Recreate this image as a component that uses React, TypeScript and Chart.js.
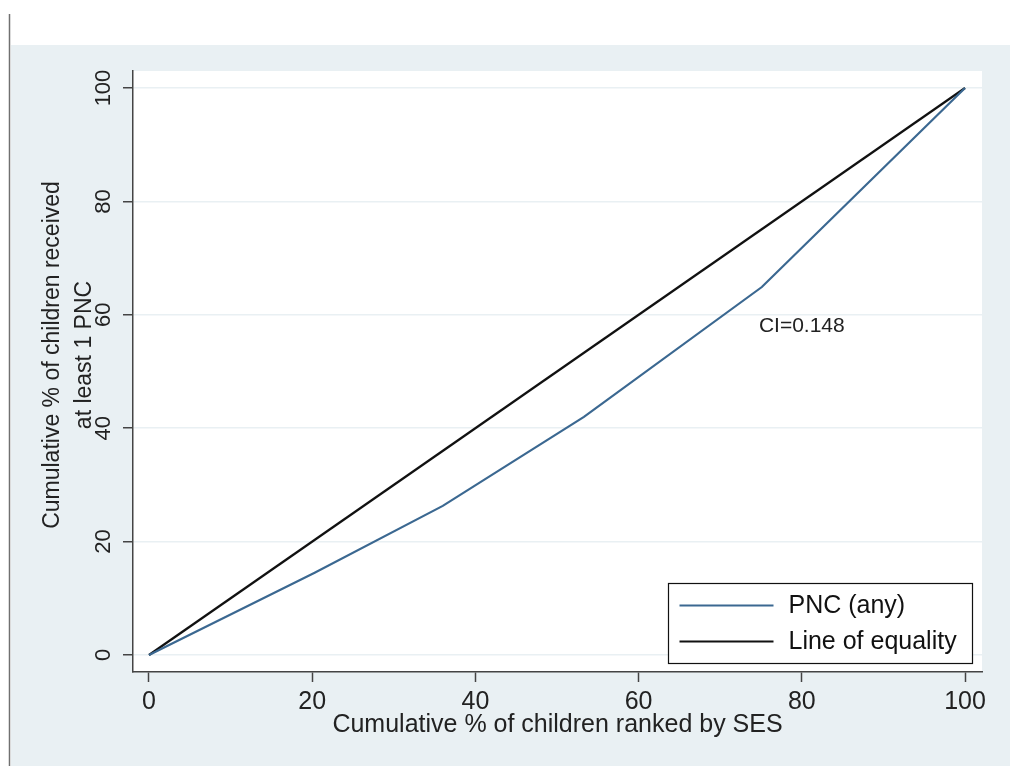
import React, { useEffect, useRef } from "react";
import { Chart, registerables } from "chart.js";

Chart.register(...registerables);

const W = 1010;
const H = 766;

const xTicks = [0, 20, 40, 60, 80, 100];
const yTicks = [0, 20, 40, 60, 80, 100];
const pncX = [0, 20.3, 36.0, 53.3, 75.1, 100];
const pncY = [0, 14.5, 26.3, 42.0, 64.9, 100];
const eqX = [0, 100];
const eqY = [0, 100];
const seriesLabels = ["PNC (any)", "Line of equality"];
const seriesColors = ["#3b6891", "#111111"];
const ciText = "CI=0.148";
const ciPos = [80, 58];
const xTitle = "Cumulative % of children ranked by SES";
const yTitle = ["Cumulative % of children received", "at least 1 PNC"];

const FONT = "'Liberation Sans', Arial, Helvetica, sans-serif";
const BG = "#e9f0f3";
const GRID = "#e9f0f3";
const AXIS = "#444444";

const bgPlugin = {
  id: "bgPlugin",
  beforeDraw(chart: any) {
    const { ctx, chartArea } = chart;
    ctx.save();
    ctx.fillStyle = "#ffffff";
    ctx.fillRect(0, 0, W, H);
    ctx.fillStyle = BG;
    ctx.fillRect(11, 45, W - 11, H - 45);
    ctx.strokeStyle = "#707070";
    ctx.lineWidth = 1.5;
    ctx.beginPath();
    ctx.moveTo(9.5, 14);
    ctx.lineTo(9.5, H);
    ctx.stroke();
    ctx.fillStyle = "#ffffff";
    ctx.fillRect(
      chartArea.left,
      chartArea.top,
      chartArea.right - chartArea.left,
      chartArea.bottom - chartArea.top
    );
    ctx.restore();
  },
};

const overlayPlugin = {
  id: "overlayPlugin",
  afterDraw(chart: any) {
    const { ctx, chartArea, scales } = chart;
    ctx.save();
    // CI annotation
    ctx.fillStyle = "#222222";
    ctx.font = `21px ${FONT}`;
    ctx.textAlign = "center";
    ctx.textBaseline = "middle";
    ctx.fillText(
      ciText,
      scales.x.getPixelForValue(ciPos[0]),
      scales.y.getPixelForValue(ciPos[1])
    );

    // Y axis title (two lines, rotated)
    ctx.save();
    ctx.font = `23px ${FONT}`;
    ctx.fillStyle = "#222222";
    ctx.translate(0, 355);
    ctx.rotate(-Math.PI / 2);
    ctx.textAlign = "center";
    ctx.textBaseline = "middle";
    ctx.fillText(yTitle[0], 0, 53);
    ctx.fillText(yTitle[1], 0, 85);
    ctx.restore();

    // Legend box
    const bx = chartArea.right - 10;
    const by = chartArea.bottom - 9.5;
    const bw = 304;
    const bh = 80;
    const left = Math.round(bx - bw) + 0.5;
    const top = Math.round(by - bh) + 0.5;
    ctx.fillStyle = "#ffffff";
    ctx.fillRect(left, top, bw, bh);
    ctx.strokeStyle = "#111111";
    ctx.lineWidth = 1.2;
    ctx.strokeRect(left, top, bw, bh);
    const ds = chart.data.datasets;
    ds.forEach((d: any, i: number) => {
      const cy = top + 22 + i * 36;
      ctx.strokeStyle = d.borderColor;
      ctx.lineWidth = 2;
      ctx.beginPath();
      ctx.moveTo(left + 11, cy);
      ctx.lineTo(left + 105, cy);
      ctx.stroke();
      ctx.fillStyle = "#111111";
      ctx.font = `25px ${FONT}`;
      ctx.textAlign = "left";
      ctx.textBaseline = "middle";
      ctx.fillText(d.label, left + 120, cy + 1);
    });
    ctx.restore();
  },
};

export default function App() {
  const ref = useRef<HTMLCanvasElement | null>(null);

  useEffect(() => {
    if (!ref.current) return;
    const chart = new Chart(ref.current, {
      type: "line",
      data: {
        datasets: [
          {
            label: seriesLabels[0],
            data: pncX.map((x, i) => ({ x, y: pncY[i] })),
            borderColor: seriesColors[0],
            borderWidth: 2.2,
            pointRadius: 0,
            tension: 0,
            fill: false,
          },
          {
            label: seriesLabels[1],
            data: eqX.map((x, i) => ({ x, y: eqY[i] })),
            borderColor: seriesColors[1],
            borderWidth: 2.2,
            pointRadius: 0,
            tension: 0,
            fill: false,
          },
        ],
      },
      options: {
        animation: false,
        responsive: false,
        maintainAspectRatio: false,
        layout: { padding: { top: 71, right: 28, left: 0, bottom: 0 } },
        plugins: {
          legend: { display: false },
          tooltip: { enabled: false },
          title: { display: false },
        },
        scales: {
          x: {
            type: "linear",
            min: -1.96,
            max: 102.08,
            afterBuildTicks: (s: any) => {
              s.ticks = xTicks.map((v) => ({ value: v }));
            },
            afterFit: (s: any) => {
              s.height = 94;
            },
            grid: {
              drawOnChartArea: false,
              drawTicks: true,
              tickLength: 10,
              tickColor: AXIS,
              tickWidth: 1.5,
            },
            border: { display: true, color: AXIS, width: 1.5 },
            ticks: {
              color: "#222222",
              font: { family: FONT, size: 25 },
              padding: 5,
              maxRotation: 0,
              minRotation: 0,
              autoSkip: false,
            },
            title: {
              display: true,
              text: xTitle,
              color: "#222222",
              font: { family: FONT, size: 25, lineHeight: 1.2 },
              padding: { top: 0, bottom: 26 },
            },
          },
          y: {
            type: "linear",
            min: -3,
            max: 103,
            afterBuildTicks: (s: any) => {
              s.ticks = yTicks.map((v) => ({ value: v }));
            },
            afterFit: (s: any) => {
              s.width = 133;
            },
            grid: {
              color: GRID,
              lineWidth: 1.5,
              drawTicks: true,
              tickLength: 10,
              tickColor: AXIS,
              tickWidth: 1.5,
            },
            border: { display: true, color: AXIS, width: 1.5 },
            ticks: {
              color: "#222222",
              font: { family: FONT, size: 22 },
              padding: 1,
              minRotation: 90,
              maxRotation: 90,
              crossAlign: "center",
              autoSkip: false,
            },
          },
        },
      },
      plugins: [bgPlugin, overlayPlugin],
    } as any);
    return () => chart.destroy();
  }, []);

  return (
    <div style={{ position: "absolute", left: 0, top: 0, width: W, height: H }}>
      <canvas ref={ref} width={W} height={H} style={{ display: "block", width: W, height: H }} />
    </div>
  );
}
